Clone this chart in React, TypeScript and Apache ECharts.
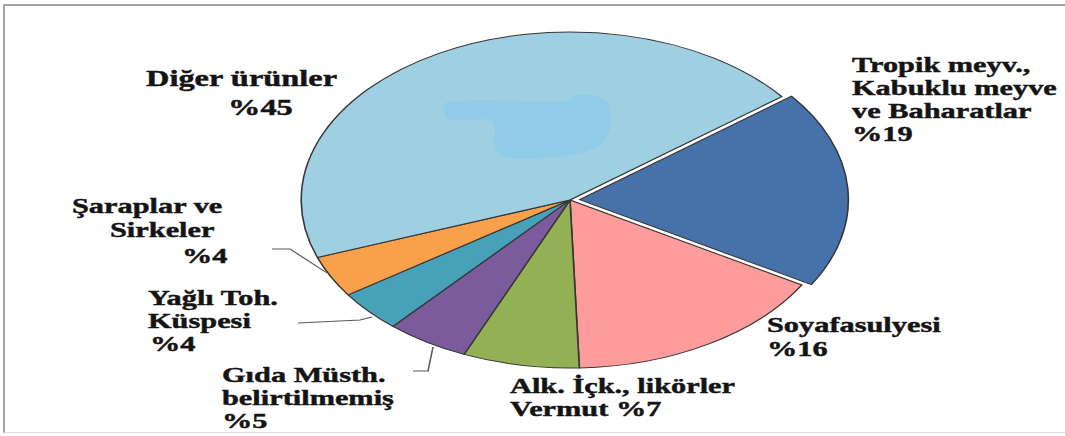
import React, { useEffect, useRef } from 'react';
import * as echarts from 'echarts';

// ---- data ----
const categories = [
  'Tropik meyv., Kabuklu meyve ve Baharatlar',
  'Soyafasulyesi',
  'Alk. İçk., likörler Vermut',
  'Gıda Müsth. belirtilmemiş',
  'Yağlı Toh. Küspesi',
  'Şaraplar ve Sirkeler',
  'Diğer ürünler',
];
const values = [19, 16, 7, 5, 4, 4, 45];
const labelNameLines = [
  ['Tropik meyv.,', 'Kabuklu meyve', 've Baharatlar'],
  ['Soyafasulyesi'],
  ['Alk. İçk., likörler', 'Vermut'],
  ['Gıda Müsth.', 'belirtilmemiş'],
  ['Yağlı Toh.', 'Küspesi'],
  ['Şaraplar ve', 'Sirkeler'],
  ['Diğer ürünler'],
];
const percentInline = [false, false, true, false, false, false, false];
const colors = ['#4671a9', '#fd9c9b', '#93b054', '#7a5b9b', '#47a2b9', '#f9a04b', '#9ed0e1'];

// ---- layout (screen px) ----
const W = 1065;
const H = 436;
const SX = 1.6; // horizontal stretch of the original picture
const LW = W / SX;
const CX = 570;
const CY = 200;
const R = 168;
const FONT = 22;
const TEXT_SX = 0.862;
const labelFont = [22, 22, 22, 22, 22, 22, 23.5];

const labelPos: number[][][] = [
  [[852, 72], [852, 95], [852, 118], [852, 141]],
  [[767, 332], [767, 356]],
  [[510, 393], [510, 416]],
  [[222, 382], [222, 405], [222, 428]],
  [[148, 305], [148, 328], [150, 351]],
  [[72, 213], [110, 237], [182, 263]],
  [[146, 86], [228, 115]],
];
const leaders: (number[][] | null)[] = [
  null,
  null,
  null,
  [[413, 371], [428, 371], [433, 347]],
  [[298, 323], [360, 320], [372, 317]],
  [[272, 249], [290, 249], [327, 273]],
  null,
];
const blob = [
  [448, 102], [570, 101], [576, 95], [592, 95], [608, 103], [610, 130], [600, 145],
  [580, 153], [560, 157], [510, 158], [495, 150], [492, 121], [448, 119],
];

export default function App() {
  const ref = useRef<HTMLDivElement>(null);
  useEffect(() => {
    if (!ref.current) return;
    const chart = echarts.init(ref.current, undefined, { renderer: 'svg' });
    const graphics: any[] = [];
    graphics.push({
      type: 'polygon',
      z: 10,
      shape: { points: blob.map(([x, y]) => [x / SX, y]), smooth: 0.3 },
      style: { fill: '#90cbe8' },
    });
    values.forEach((v, i) => {
      const lines = labelNameLines[i].slice();
      if (percentInline[i]) lines[lines.length - 1] = lines[lines.length - 1] + ' %' + v;
      else lines.push('%' + v);
      const fs = labelFont[i] || FONT;
      lines.forEach((t, j) => {
        const p = labelPos[i][j];
        graphics.push({
          type: 'text',
          z: 20,
          x: p[0] / SX,
          y: p[1] - fs * 0.3375,
          scaleX: TEXT_SX,
          style: {
            text: t,
            fill: '#141414',
            stroke: '#141414',
            lineWidth: 0.45,
            fontSize: fs,
            fontWeight: 'bold',
            fontFamily: '"Liberation Serif", "Times New Roman", serif',
            align: 'left',
            verticalAlign: 'middle',
          },
        });
      });
      const l = leaders[i];
      if (l) {
        graphics.push({
          type: 'polyline',
          z: 20,
          shape: { points: l.map(([x, y]) => [x / SX, y]) },
          style: { stroke: '#5a5a5a', lineWidth: 1, fill: 'none' },
        });
      }
    });
    chart.setOption({
      animation: false,
      backgroundColor: '#ffffff',
      graphic: { elements: graphics },
      series: [
        {
          type: 'pie',
          center: [CX / SX, CY],
          radius: R,
          startAngle: 38,
          clockwise: true,
          selectedMode: 'single',
          selectedOffset: 6,
          label: { show: false },
          labelLine: { show: false },
          emphasis: { disabled: true },
          itemStyle: { borderColor: '#363636', borderWidth: 1 },
          select: { itemStyle: { borderColor: '#363636', borderWidth: 1 } },
          data: values.map((v, i) => ({
            name: categories[i],
            value: v,
            selected: i === 0,
            itemStyle: { color: colors[i] },
            select: { itemStyle: { color: colors[i], borderColor: '#363636', borderWidth: 1 } },
          })),
        },
      ],
    });
    return () => chart.dispose();
  }, []);
  return (
    <div style={{ position: 'fixed', left: 0, top: 0, width: W, height: H, background: '#fff', overflow: 'hidden' }}>
      <div
        ref={ref}
        style={{
          position: 'absolute',
          left: 0,
          top: 0,
          width: LW,
          height: H,
          transform: `scaleX(${SX})`,
          transformOrigin: '0 0',
        }}
      />
      <div
        style={{
          position: 'absolute',
          left: 3,
          top: 4,
          width: W,
          height: 426,
          borderTop: '2px solid #a3a3a3',
          borderLeft: '2px solid #a3a3a3',
          borderBottom: '1px solid #dedede',
          pointerEvents: 'none',
        }}
      />
    </div>
  );
}
